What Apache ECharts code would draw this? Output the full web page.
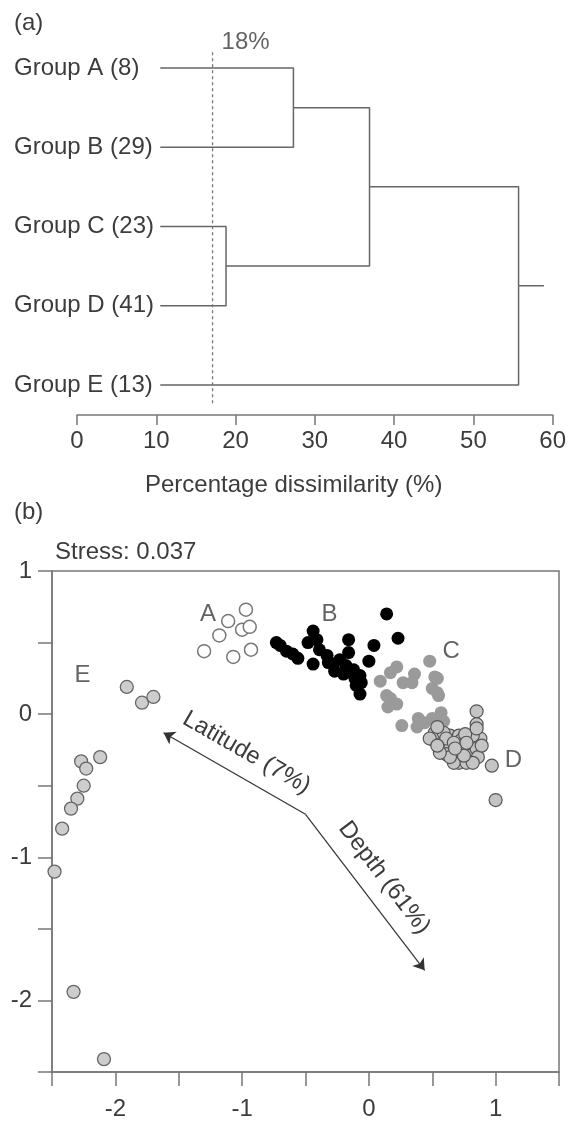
<!DOCTYPE html>
<html>
<head>
<meta charset="utf-8">
<script src="https://cdn.jsdelivr.net/npm/echarts@6/dist/echarts.min.js"></script>
<style>
html, body { margin: 0; padding: 0; background: #fff; }
#chart { width: 569px; height: 1121px; }
</style>
</head>
<body>
<div id="chart"></div>
<script>
// (a) dendrogram
var groups = ['Group A (8)', 'Group B (29)', 'Group C (23)', 'Group D (41)', 'Group E (13)'];
var leafStart = 10.5;
var mergeAB = 27.3, mergeCD = 18.8, mergeABCD = 36.9, mergeRoot = 55.7, rootEnd = 58.9;
var cutLevel = 17.1;      // drawn position of the cut line
var cutLabel = '18%';

// (b) nMDS ordination
var groupA = [[-0.97, 0.73], [-1.11, 0.65], [-1.00, 0.59], [-0.94, 0.61], [-1.18, 0.55], [-1.30, 0.44], [-1.07, 0.40], [-0.93, 0.45]];
var groupB = [[0.14, 0.70], [0.23, 0.53], [0.04, 0.48], [0.00, 0.37], [-0.16, 0.52], [-0.16, 0.43], [-0.44, 0.58], [-0.48, 0.50],
	[-0.39, 0.45], [-0.44, 0.35], [-0.33, 0.41], [-0.28, 0.35], [-0.23, 0.38], [-0.27, 0.30], [-0.18, 0.34], [-0.12, 0.31],
	[-0.20, 0.28], [-0.11, 0.25], [-0.07, 0.27], [-0.10, 0.20], [-0.06, 0.22], [-0.07, 0.14], [-0.70, 0.48], [-0.65, 0.44],
	[-0.60, 0.42], [-0.56, 0.39], [-0.73, 0.50], [-0.41, 0.52], [-0.32, 0.36]];
var groupC = [[0.48, 0.37], [0.22, 0.33], [0.17, 0.29], [0.09, 0.23], [0.27, 0.22], [0.36, 0.28], [0.34, 0.22], [0.52, 0.26],
	[0.50, 0.18], [0.55, 0.13], [0.17, 0.11], [0.15, 0.05], [0.22, 0.07], [0.26, -0.08], [0.39, -0.03], [0.44, -0.06],
	[0.50, -0.03], [0.38, -0.09], [0.57, 0.01], [0.59, -0.05], [0.14, 0.13], [0.54, 0.25], [0.54, 0.15]];
var groupD = [[0.85, 0.02], [0.85, -0.07], [0.83, -0.15], [0.97, -0.36], [1.00, -0.60],
	[0.55, -0.15], [0.51, -0.18], [0.57, -0.22], [0.64, -0.15], [0.71, -0.15], [0.70, -0.23], [0.64, -0.24], [0.61, -0.28],
	[0.69, -0.29], [0.76, -0.24], [0.80, -0.20], [0.80, -0.29], [0.85, -0.24], [0.86, -0.30], [0.71, -0.34], [0.77, -0.34],
	[0.82, -0.34], [0.67, -0.34], [0.52, -0.13], [0.59, -0.13], [0.48, -0.17], [0.88, -0.17], [0.73, -0.18], [0.82, -0.15],
	[0.54, -0.09], [0.61, -0.17], [0.67, -0.20], [0.76, -0.14], [0.89, -0.22], [0.64, -0.30], [0.75, -0.29], [0.56, -0.27],
	[0.54, -0.22], [0.85, -0.10], [0.77, -0.20], [0.68, -0.24]];
var groupE = [[-1.91, 0.19], [-1.79, 0.08], [-1.70, 0.12], [-2.12, -0.30], [-2.27, -0.33], [-2.23, -0.38], [-2.25, -0.50],
	[-2.30, -0.59], [-2.35, -0.66], [-2.42, -0.80], [-2.48, -1.10], [-2.33, -1.94], [-2.09, -2.41]];
var groupLabels = [['A', -1.27, 0.70], ['B', -0.31, 0.70], ['C', 0.65, 0.44], ['D', 1.14, -0.32], ['E', -2.26, 0.27]];
var arrowOrigin = [-0.50, -0.70];
var latitudeEnd = [-1.62, -0.13];
var depthEnd = [0.44, -1.79];
var stress = '0.037';

var font = 'Liberation Sans, Arial, sans-serif';
var fs = 24;
var txt = '#3c3c3c';
var axisCol = '#777';

function dendroLine(points) {
	return {
		type: 'line', xAxisIndex: 0, yAxisIndex: 0, data: points,
		symbol: 'none', silent: true,
		lineStyle: { color: '#666', width: 1.5 }
	};
}

function scatterGroup(data, color, border, bw) {
	return {
		type: 'scatter', xAxisIndex: 1, yAxisIndex: 1, data: data,
		symbolSize: 13, silent: true,
		itemStyle: { color: color, borderColor: border, borderWidth: bw, opacity: 1 }
	};
}

function titleText(text, left, top) {
	return { text: text, left: left, top: top, padding: 0, textStyle: { fontSize: fs, fontWeight: 'normal', color: txt, fontFamily: font } };
}

var chart = echarts.init(document.getElementById('chart'));
var option = {
	animation: false,
	backgroundColor: '#fff',
	textStyle: { fontFamily: font },
	title: [
		titleText('(a)', 14, 11),
		titleText('Percentage dissimilarity (%)', 145, 473),
		titleText('(b)', 14, 500),
		titleText('Stress: ' + stress, 55, 540)
	],
	grid: [
		{ left: 77, right: 15, top: 30, height: 385 },
		{ left: 52, right: 10, top: 571, height: 504, show: true, borderColor: axisCol, borderWidth: 1.5, backgroundColor: 'transparent' }
	],
	xAxis: [{
		gridIndex: 0, type: 'value', min: 0, max: 60, interval: 10,
		axisLine: { show: true, onZero: false, lineStyle: { color: axisCol, width: 1.5 } },
		axisTick: { show: true, length: 10, lineStyle: { color: axisCol, width: 1.5 } },
		axisLabel: { fontSize: fs, color: txt, margin: 14 },
		splitLine: { show: false }
	}, {
		gridIndex: 1, type: 'value', min: -2.5, max: 1.5, interval: 0.5,
		axisLine: { show: true, onZero: false, lineStyle: { color: axisCol, width: 1.5 } },
		axisTick: { show: true, length: 14, lineStyle: { color: axisCol, width: 1.5 } },
		axisLabel: {
			fontSize: fs, color: txt, margin: 25,
			formatter: function (v) { return Number.isInteger(v) ? String(v) : ''; }
		},
		splitLine: { show: false }
	}],
	yAxis: [{
		gridIndex: 0, type: 'value', min: -0.48, max: 4.38, inverse: true,
		axisLine: { show: false },
		axisTick: { show: false },
		axisLabel: {
			customValues: [0, 1, 2, 3, 4],
			formatter: function (v) { return groups[Math.round(v)]; },
			align: 'left', margin: 63, fontSize: fs, color: txt
		},
		splitLine: { show: false }
	}, {
		gridIndex: 1, type: 'value', min: -2.5, max: 1, interval: 0.5,
		axisLine: { show: true, onZero: false, lineStyle: { color: axisCol, width: 1.5 } },
		axisTick: { show: true, length: 14, lineStyle: { color: axisCol, width: 1.5 } },
		axisLabel: {
			fontSize: fs, color: txt, margin: 20,
			formatter: function (v) { return Number.isInteger(v) ? String(v) : ''; }
		},
		splitLine: { show: false }
	}],
	series: [
		dendroLine([[leafStart, 0], [mergeAB, 0], [mergeAB, 1], [leafStart, 1]]),
		dendroLine([[leafStart, 2], [mergeCD, 2], [mergeCD, 3], [leafStart, 3]]),
		dendroLine([[mergeAB, 0.5], [mergeABCD, 0.5], [mergeABCD, 2.5], [mergeCD, 2.5]]),
		dendroLine([[mergeABCD, 1.5], [mergeRoot, 1.5], [mergeRoot, 4], [leafStart, 4]]),
		dendroLine([[mergeRoot, 2.75], [rootEnd, 2.75]]),
		{
			type: 'line', xAxisIndex: 0, yAxisIndex: 0, symbol: 'none', silent: true,
			data: [[cutLevel, -0.2], [cutLevel, 4.25]],
			lineStyle: { color: '#777', width: 1.3, type: [3, 3] }
		},
		{
			type: 'scatter', xAxisIndex: 0, yAxisIndex: 0, symbolSize: 0, silent: true,
			data: [[cutLevel, -0.32]],
			label: { show: true, position: 'right', distance: 9, formatter: cutLabel, fontSize: fs, color: txt }
		},
		scatterGroup(groupA, '#fff', '#777', 1.5),
		scatterGroup(groupB, '#000', '#000', 0),
		scatterGroup(groupC, '#9a9a9a', '#9a9a9a', 0),
		scatterGroup(groupD, '#c4c4c4', '#555', 1.2),
		scatterGroup(groupE, '#cdcdcd', '#666', 1.3),
		{
			type: 'scatter', xAxisIndex: 1, yAxisIndex: 1, symbolSize: 0, silent: true,
			data: groupLabels.map(function (d) { return { name: d[0], value: [d[1], d[2]] }; }),
			label: { show: true, position: 'inside', formatter: '{b}', fontSize: fs, color: txt }
		},
		{
			type: 'scatter', xAxisIndex: 1, yAxisIndex: 1, symbolSize: 0, silent: true,
			data: [arrowOrigin],
			markLine: {
				silent: true,
				symbol: ['none', 'arrow'],
				symbolSize: 11,
				lineStyle: { color: '#333', width: 1.2, type: 'solid' },
				label: { show: true, position: 'insideMiddleTop', distance: 12, formatter: '{b}', fontSize: fs, color: txt },
				data: [
					[{ name: 'Latitude (7%)', coord: arrowOrigin }, { coord: latitudeEnd }],
					[{ name: 'Depth (61%)', coord: arrowOrigin }, { coord: depthEnd }]
				]
			}
		}
	]
};
chart.setOption(option);
</script>
</body>
</html>
